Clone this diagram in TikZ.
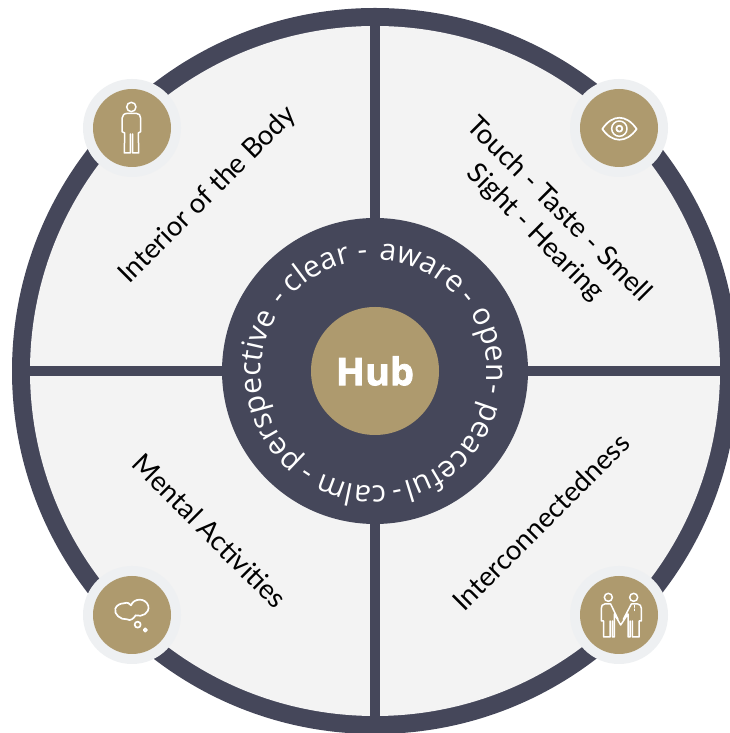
\documentclass[tikz,border=0pt]{standalone}
\usepackage{fontspec}
\setmainfont{Lato}
\newfontfamily\ringfont{Open Sans}
\newfontfamily\hubfont{Open Sans}[BoldFeatures={FakeBold=2}]
\usetikzlibrary{decorations.text}
\definecolor{slate}{HTML}{45475A}
\definecolor{gold}{HTML}{AE9A6E}
\definecolor{panel}{HTML}{F3F3F3}
\definecolor{halo}{HTML}{EEF0F2}
\tikzset{
  x=1pt,y=1pt,
  bar/.style={draw=slate,line width=10pt},
  halodisc/.style={circle,fill=halo,draw=none,minimum size=98pt,inner sep=0pt},
  golddisc/.style={circle,fill=gold,draw=none,minimum size=78pt,inner sep=0pt},
  quad/.style={font=\fontsize{27.5}{30}\selectfont,text=black,align=center,inner sep=0pt},
  iconline/.style={draw=white,line width=1.5pt,fill=none,line join=round,line cap=round},
  zoomed/.style={x=0.3333pt,y=-0.3333pt}
}
\newcommand\ringword[2]{%
  \path[postaction={decorate,decoration={text along path,text align={left},
    text={|\ringfont\fontsize{30}{33}\selectfont\color{white}|#1}}}]
    (tc) ++(#2:113) arc[start angle=#2,delta angle=-130,radius=113];}
\begin{document}
\begin{tikzpicture}
\useasboundingbox (0,0) rectangle (730,733);
\clip (0,0) rectangle (730,733);
\fill[white] (0,0) rectangle (730,733);
\coordinate (c) at (375,362);
\coordinate (tc) at (374,360);
% outer ring and panel
\node[circle,fill=slate,minimum size=726pt,inner sep=0pt] (ring) at (c) {};
\node[circle,fill=panel,minimum size=690pt,inner sep=0pt] (panel) at (c) {};
% spokes
\coordinate (top) at (375,709);
\coordinate (bot) at (375,15);
\coordinate (lef) at (28,362);
\coordinate (rig) at (722,362);
\draw[bar] (top) -- (bot);
\draw[bar] (lef) -- (rig);
% hub
\node[circle,fill=slate,minimum size=306pt,inner sep=0pt] (band) at (c) {};
\node[circle,fill=gold,minimum size=128pt,inner sep=0pt,text=white,font=\hubfont\bfseries\fontsize{38}{41}\selectfont] (hub) at (c) {Hub};
\ringword{perspective}{231}
\ringword{-}{144.2}
\ringword{clear}{136}
\ringword{-}{98}
\ringword{aware}{87.5}
\ringword{-}{41.5}
\ringword{open}{32}
\ringword{-}{-5.3}
\ringword{peaceful}{-14.5}
\ringword{-}{-76.5}
\ringword{calm}{-84}
\ringword{-}{-121}
% quadrant labels
\node[quad,rotate=45] (q1) at (208,538) {Interior of the Body};
\node[quad,rotate=-45] (q2a) at (560,525) {Touch - Taste - Smell};
\node[quad,rotate=-45] (q2b) at (535,500) {Sight - Hearing};
\node[quad,rotate=-45] (q3) at (210,202) {Mental Activities};
\node[quad,rotate=45] (q4) at (541,211) {Interconnectedness};
% icon discs
\foreach \n/\px/\py in {a/132/605,b/619/605,d/132/118,e/619/118}{
  \node[halodisc] (h\n) at (\px,\py) {};
  \node[golddisc] (g\n) at (\px,\py) {};
}
% person icon
\begin{scope}[shift={(ga.center)},zoomed,shift={(-185,-175)}]
  \draw[iconline] (183,112) circle[radius=14];
  \draw[iconline] (172,131) -- (198,131) .. controls (206,131) and (211,137) .. (211,146)
    -- (211,186) -- (204,190) -- (205,250) -- (187,250) -- (187,193)
    (180,193) -- (180,250) -- (162,250) -- (163,190) -- (155,186) -- (155,146)
    .. controls (155,137) and (162,131) .. (172,131);
\end{scope}
% eye icon
\begin{scope}[shift={(gb.center)},zoomed,shift={(-175,-172)}]
  \draw[iconline,line width=1.7pt] (125,175) .. controls (155,130) and (197,130) .. (228,175)
    .. controls (197,218) and (155,218) .. (125,175) -- cycle;
  \draw[iconline] (176,174) circle[radius=23];
  \draw[iconline,line width=1.8pt] (176,174) circle[radius=9];
\end{scope}
% thought icon
\begin{scope}[shift={(gd.center)},zoomed,shift={(-185,-175)}]
  \draw[iconline,line width=1.7pt] (160,140) .. controls (172,136) and (178,140) .. (182,146)
    .. controls (190,124) and (226,122) .. (234,148)
    .. controls (238,170) and (215,182) .. (196,176)
    .. controls (190,186) and (180,194) .. (170,188)
    .. controls (150,190) and (130,172) .. (135,156)
    .. controls (138,146) and (150,140) .. (160,140) -- cycle;
  \draw[iconline,line width=1.7pt] (202,204) circle[radius=9];
  \draw[iconline,line width=1.7pt] (225,220) circle[radius=5];
\end{scope}
% handshake icon
\begin{scope}[shift={(ge.center)},zoomed,shift={(-175,-175)}]
  \draw[iconline] (143,122) circle[radius=12];
  \draw[iconline] (219,122) circle[radius=12];
  \draw[iconline] (172,188) -- (150,142) -- (132,142) .. controls (125,142) and (122,148) .. (122,155)
    -- (122,193) -- (129,193) -- (129,241) -- (148,241) -- (148,193)
    (155,193) -- (155,241) -- (161,241) -- (161,172) -- (180,205) -- (202,172) -- (202,241) -- (208,241) -- (208,193)
    (215,193) -- (215,241) -- (235,241) -- (235,193) -- (242,193) -- (242,155)
    .. controls (242,148) and (238,142) .. (231,142) -- (212,142) -- (188,188);
  \draw[iconline,line width=1pt] (221,146) -- (221,152) (221,157) -- (221,162);
\end{scope}
\end{tikzpicture}
\end{document}
